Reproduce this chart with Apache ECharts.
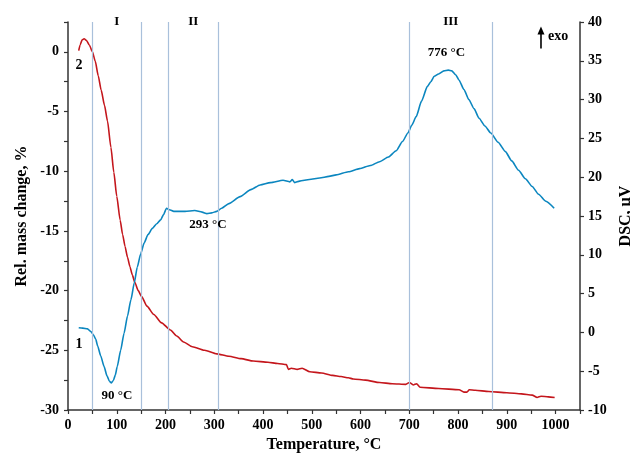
<!DOCTYPE html>
<html><head><meta charset="utf-8">
<script src="https://cdn.jsdelivr.net/npm/echarts@6/dist/echarts.min.js"></script>
<style>html,body{margin:0;padding:0;background:#fff}#c{width:630px;height:454px}</style>
</head><body><div id="c"></div>
<script>
// Mass change (%) vs temperature (°C)  — curve 2
const massT = [22,25,29,33,38,44,50,56,62,68,75,81,88,94,100,107,112,117,122,127,132,137,144,151,162,176,192,210,223,237,255,280,305,330,355,380,410,430,448,452,458,470,480,496,520,543,560,575,585,610,639,665,693,700,708,715,722,760,802,812,818,823,835,863,900,930,952,962,970,985,998];
const massV = [0.1,0.6,1.0,1.1,0.95,0.55,0,-0.8,-2.0,-3.2,-4.5,-5.8,-8.0,-10.1,-12.1,-14.1,-15.3,-16.3,-17.2,-18.0,-18.7,-19.3,-20.0,-20.5,-21.3,-22.0,-22.7,-23.3,-23.8,-24.3,-24.7,-25.0,-25.3,-25.5,-25.7,-25.9,-26.0,-26.1,-26.2,-26.6,-26.5,-26.6,-26.5,-26.8,-26.9,-27.1,-27.2,-27.3,-27.4,-27.5,-27.7,-27.8,-27.85,-27.7,-27.9,-27.8,-28.1,-28.2,-28.3,-28.5,-28.5,-28.3,-28.35,-28.45,-28.55,-28.65,-28.75,-28.95,-28.85,-28.9,-28.95];
// DSC (µV) vs temperature (°C) — curve 1
const dscT = [22,30,40,47,52,57,61,67,74,80,85,89,93,97,101,108,115,122,129,136,142,149,156,164,173,182,190,196,202,208,217,240,260,275,285,295,305,315,330,353,375,394,415,441,455,460,465,475,495,516,535,550,575,598,620,639,657,673,686,697,705,714,725,737,744,751,760,771,780,787,795,802,812,822,833,843,855,867,882,897,910,924,938,952,965,980,997];
const dscV = [0.6,0.55,0.45,0.1,-0.3,-0.9,-1.8,-3.0,-4.4,-5.6,-6.3,-6.5,-6.2,-5.5,-4.4,-2.3,-0.1,2.1,4.2,6.4,8.4,10.1,11.5,12.6,13.4,14.0,14.5,15.2,16.0,15.8,15.6,15.6,15.7,15.5,15.3,15.4,15.6,16.0,16.6,17.5,18.4,19.0,19.3,19.6,19.4,19.7,19.3,19.5,19.7,19.9,20.1,20.3,20.7,21.1,21.5,22.0,22.6,23.4,24.6,25.7,26.7,27.8,29.8,31.7,32.3,33.0,33.3,33.7,33.8,33.7,33.2,32.5,31.3,30.0,28.8,27.6,26.6,25.7,24.5,23.3,22.1,20.9,19.8,18.8,17.8,16.9,16.0];
// Stage boundaries (°C)
const boundaries = [50,150,205,308,700,870];
// Stage labels
const stageNames = ['I','II','III'];
const stageT = [100,257,785];
// Peak annotations
const peakLabels = ['90 °C','293 °C','776 °C'];
const peakT = [90,293,776];
const peakDsc = [-6.5,15.3,33.8];

const FONT = '"Liberation Serif","Times New Roman",serif';
const chart = echarts.init(document.getElementById('c'));
const zip = (a,b)=>a.map((x,i)=>[x,b[i]]);
const labelStyle = {color:'#000',fontFamily:FONT,fontWeight:'bold',fontSize:14};
const axisLine = {show:true,onZero:false,lineStyle:{color:'#333',width:1.5}};

chart.setOption({
  animation:false,
  backgroundColor:'#fff',
  grid:{left:68,right:50,top:22,bottom:44,outerBoundsMode:'none',containLabel:false},
  xAxis:{type:'value',min:0,max:1050,interval:50,
    name:'Temperature, °C',nameLocation:'middle',nameGap:27,
    nameTextStyle:{color:'#000',fontFamily:FONT,fontWeight:'bold',fontSize:16},
    axisLine:axisLine,axisTick:{show:true,length:4,lineStyle:{color:'#333',width:1.2}},
    axisLabel:Object.assign({margin:8,formatter:v=>(v%100===0&&v<=1000)?String(v):''},labelStyle),
    splitLine:{show:false}},
  yAxis:[
    {type:'value',min:-30,max:2.5,interval:2.5,position:'left',
     name:'Rel. mass change, %',nameLocation:'middle',nameGap:36,nameRotate:90,
     nameTextStyle:{color:'#000',fontFamily:FONT,fontWeight:'bold',fontSize:16},
     axisLine:axisLine,axisTick:{show:true,length:4,lineStyle:{color:'#333',width:1.2}},
     axisLabel:Object.assign({margin:9,formatter:v=>(v%5===0)?String(v):''},labelStyle),
     splitLine:{show:false}},
    {type:'value',min:-10,max:40,interval:5,position:'right',
     name:'DSC, µV',nameLocation:'middle',nameGap:38,nameRotate:90,
     nameTextStyle:{color:'#000',fontFamily:FONT,fontWeight:'bold',fontSize:16},
     axisLine:axisLine,axisTick:{show:true,length:4,lineStyle:{color:'#333',width:1.2}},
     axisLabel:Object.assign({margin:8},labelStyle),
     splitLine:{show:false}}
  ],
  series:[
    {type:'line',name:'bounds',data:[],yAxisIndex:0,z:1,
     markLine:{silent:true,symbol:['none','none'],label:{show:false},
       lineStyle:{color:'#a9c0db',width:1.2,type:'solid'},
       data:boundaries.map(b=>({xAxis:b}))}},
    {type:'line',name:'mass',data:zip(massT,massV),yAxisIndex:0,showSymbol:false,smooth:0.2,smoothMonotone:'x',z:3,
     lineStyle:{color:'#c4161c',width:1.6}},
    {type:'line',name:'dsc',data:zip(dscT,dscV),yAxisIndex:1,showSymbol:false,smooth:0.2,smoothMonotone:'x',z:3,
     lineStyle:{color:'#0b86bf',width:1.6}}
  ]
});

function px(t,v,axis){return chart.convertToPixel({xAxisIndex:0,yAxisIndex:axis},[t,v]);}
const txt = (x,y,s,size)=>({type:'text',x:x,y:y,style:{text:s,fill:'#000',font:'bold '+(size||13)+'px '+FONT,align:'center',verticalAlign:'middle'},z:10});
const g = [];
const topY = px(0,2.5,0)[1];
stageNames.forEach((s,i)=>{g.push(txt(px(stageT[i],0,0)[0],topY,s,13));});
// peak labels: 90 below, 293 below, 776 above
const p0 = px(peakT[0],peakDsc[0],1); g.push(txt(p0[0]+5,p0[1]+13,peakLabels[0]));
const p1 = px(peakT[1],peakDsc[1],1); g.push(txt(p1[0]-3,p1[1]+11,peakLabels[1]));
const p2 = px(peakT[2],peakDsc[2],1); g.push(txt(p2[0],p2[1]-17,peakLabels[2]));
// curve numbers
const c2 = px(33,-1.1,0); g.push(txt(c2[0]-5,c2[1],'2',14));
const c1 = px(33,-1.5,1); g.push(txt(c1[0]-5,c1[1],'1',14));
// exo arrow
const ax = px(970,0,0)[0], ay = px(0,38,1)[1];
g.push({type:'line',shape:{x1:ax,y1:ay+11,x2:ax,y2:ay-6},style:{stroke:'#000',lineWidth:1.6},z:10});
g.push({type:'polygon',shape:{points:[[ax-3.5,ay-3],[ax+3.5,ay-3],[ax,ay-11]]},style:{fill:'#000'},z:10});
g.push({type:'text',x:ax+7,y:ay-1,style:{text:'exo',fill:'#000',font:'bold 14px '+FONT,align:'left',verticalAlign:'middle'},z:10});
chart.setOption({graphic:g});
</script></body></html>
